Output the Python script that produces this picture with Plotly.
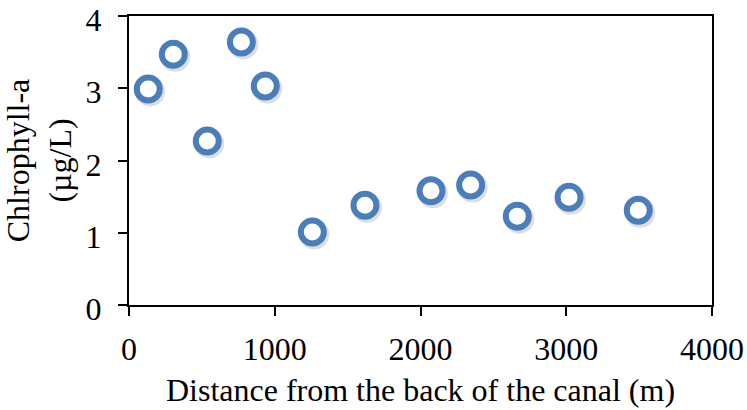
import plotly.graph_objects as go

# Sampling stations along the canal
distance_m = [132, 304, 537, 771, 935, 1258, 1619, 2072, 2344, 2664, 3019, 3494]
chlorophyll_a = [2.99, 3.47, 2.27, 3.64, 3.03, 1.01, 1.38, 1.58, 1.66, 1.23, 1.49, 1.31]

x_ticks = [0, 1000, 2000, 3000, 4000]
y_ticks = [0, 1, 2, 3, 4]

W, H = 747, 410
M = dict(l=129, r=35, t=16, b=105)
plot_w = W - M["l"] - M["r"]
plot_h = H - M["t"] - M["b"]

# soft drop shadow: a pixel offset expressed in axis units
dx = 2.0 * 4000 / plot_w
dy = -2.5 * 4 / plot_h

serif = "Liberation Serif, Times New Roman, serif"
blue = "#4A7EBB"
FS = 32

fig = go.Figure()
fig.add_trace(go.Scatter(
    x=[v + dx for v in distance_m], y=[v + dy for v in chlorophyll_a],
    mode="markers", hoverinfo="skip",
    marker=dict(symbol="circle-open", size=23, color="rgba(0,0,0,0.13)",
                line=dict(width=7, color="rgba(0,0,0,0.13)")),
))
fig.add_trace(go.Scatter(
    x=distance_m, y=chlorophyll_a, mode="markers",
    marker=dict(symbol="circle", size=23, color="white",
                line=dict(width=6, color=blue)),
))

axis_common = dict(
    showline=True, linecolor="black", linewidth=2, mirror=True,
    ticks="outside", ticklen=9, tickwidth=1.5, tickcolor="black",
    showgrid=False, zeroline=False, automargin=False,
    ticklabeloverflow="allow",
    tickfont=dict(family=serif, size=FS, color="black"),
)

fig.update_layout(
    width=W, height=H, margin=M,
    paper_bgcolor="white", plot_bgcolor="white",
    showlegend=False,
    xaxis=dict(range=[0, 4000], tickvals=x_ticks, ticklabelstandoff=6,
               title=dict(text="Distance from the back of the canal (m)",
                          font=dict(family=serif, size=FS, color="black"),
                          standoff=12),
               **axis_common),
    yaxis=dict(range=[0, 4], tickvals=y_ticks, ticklabelstandoff=10,
               ticklabelshift=4,
               title=dict(text="Chlrophyll-a<br>(µg/L)",
                          font=dict(family=serif, size=FS, color="black"),
                          standoff=10),
               **axis_common),
)

fig.write_html("out.html")
